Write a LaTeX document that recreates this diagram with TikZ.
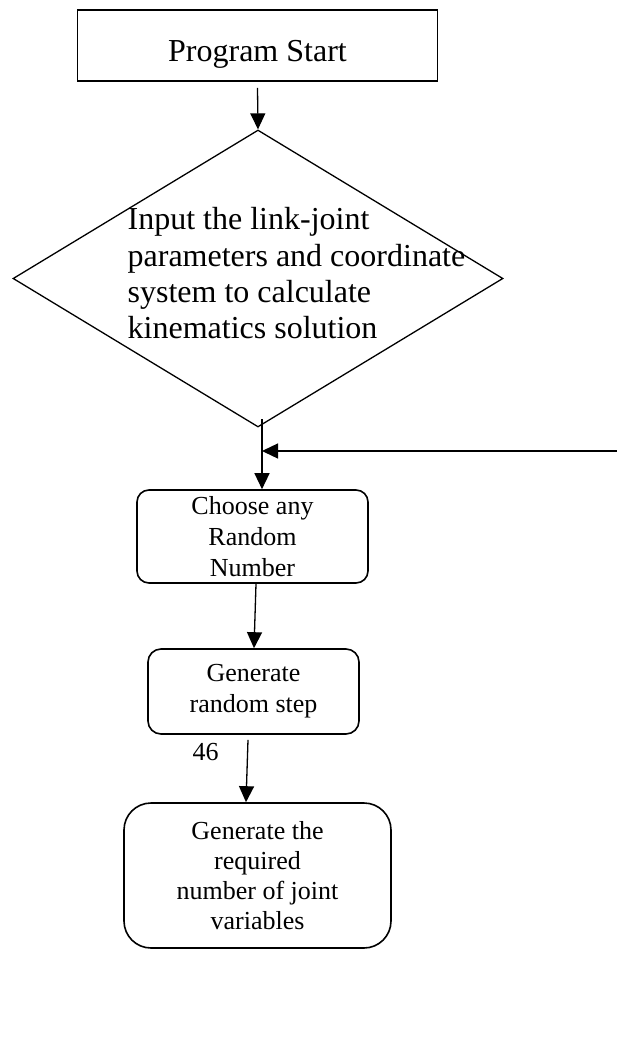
\documentclass[tikz,border=0pt]{standalone}
\usepackage{fontspec}
\setmainfont{Liberation Serif}
\usetikzlibrary{shapes.geometric,arrows.meta}
\begin{document}
\begin{tikzpicture}[x=1pt,y=-1pt,
  line width=1.3pt,
  arr/.style={-{Triangle[length=16pt,width=15pt]}},
  rbox/.style={draw, line width=1.6pt, align=center, inner sep=0pt, font=\fontsize{26}{31}\selectfont},
]
\fill[white] (0,0) rectangle (617,1038);
\useasboundingbox (0,0) rectangle (617,1038);
\node[draw, line width=1.6pt, minimum width=360pt, minimum height=71pt, inner sep=0pt, text height=33pt, text depth=0pt, font=\fontsize{32}{38}\selectfont] (start) at (257.5,45.5) {Program Start};
\node[draw, diamond, minimum width=490pt, minimum height=297pt, inner sep=0pt] (dia) at (258,278.5) {};
\node[anchor=north west, inner sep=0pt, align=left, font=\fontsize{32}{36.3}\selectfont] (diatext) at (127,207) {Input the link-joint\\parameters and coordinate\\system to calculate\\kinematics solution};
\node[rbox, rounded corners=12pt, minimum width=231pt, minimum height=93pt] (b1) at (252.5,536.5) {Choose any\\Random\\Number};
\node[rbox, rounded corners=13pt, minimum width=211pt, minimum height=85pt] (b2) at (253.5,691.5) {Generate\\random step};
\node[rbox, rounded corners=27pt, minimum width=267pt, minimum height=145pt, font=\fontsize{26}{30}\selectfont] (b3) at (257.5,875.5) {Generate the\\required\\number of joint\\variables};
\node[inner sep=0pt, anchor=base, font=\fontsize{26}{31}\selectfont] (lbl) at (205.5,760) {46};
\coordinate (j) at (262,419);
\coordinate (loopin) at (617,451);
\draw[arr] ([yshift=-6pt]start.south) -- (dia.north);
\draw[arr] (j) -- (j |- b1.north);
\draw[arr] (loopin) -- (loopin -| j);
\draw[arr] ([xshift=3.5pt]b1.south) -- ([xshift=0.5pt]b2.north);
\draw[arr] ([xshift=-5.5pt,yshift=-5pt]b2.south) -- ([xshift=-11.5pt]b3.north);
\end{tikzpicture}
\end{document}
